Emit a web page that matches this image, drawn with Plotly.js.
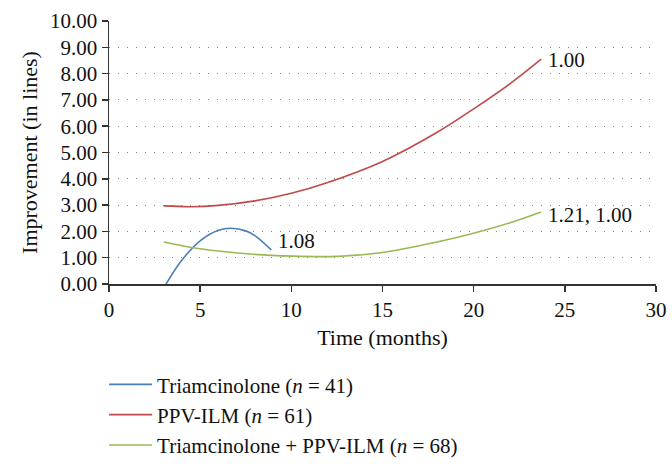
<!DOCTYPE html>
<html>
<head>
<meta charset="utf-8">
<script src="https://cdn.plot.ly/plotly-3.0.1.min.js"></script>
<style>
  body { margin: 0; background: #fff; }
  #graph { width: 672px; height: 464px; }
</style>
</head>
<body>
<div id="graph"></div>
<script>
// values
var triamX = [3, 4, 5, 6, 6.7, 7.5, 8, 8.9];
var triamY = [-0.15, 0.91, 1.64, 2.04, 2.12, 2.02, 1.84, 1.3];
var ppvX = [3, 4.5, 6, 8, 10, 12, 15, 18, 20, 22, 23.7];
var ppvY = [2.97, 2.94, 2.99, 3.16, 3.45, 3.86, 4.66, 5.77, 6.66, 7.62, 8.55];
var comboX = [3, 5, 7.7, 10, 12.5, 15, 18, 20, 22, 23.7];
var comboY = [1.6, 1.34, 1.14, 1.06, 1.05, 1.2, 1.6, 1.93, 2.33, 2.74];
var seriesNames = ["Triamcinolone (<i>n</i> = 41)", "PPV-ILM (<i>n</i> = 61)", "Triamcinolone + PPV-ILM (<i>n</i> = 68)"];
var seriesColors = ["#4a7ebb", "#be4b48", "#98b954"];
var endLabels = ["1.08", "1.00", "1.21, 1.00"];
var labelY = [1.63, 8.52, 2.62];

var serif = "Liberation Serif, Times New Roman, serif";

function makeTrace(xs, ys, i) {
    return {
        x: xs,
        y: ys,
        type: "scatter",
        mode: "lines",
        name: seriesNames[i],
        line: {color: seriesColors[i], width: 1.6, shape: "spline", smoothing: 1},
        hoverinfo: "skip"
    };
}

var data = [
    makeTrace(triamX, triamY, 0),
    makeTrace(ppvX, ppvY, 1),
    makeTrace(comboX, comboY, 2)
];

/* end labels sit just right of the last point of each curve */
var lastX = [triamX[triamX.length - 1], ppvX[ppvX.length - 1], comboX[comboX.length - 1]];
var annotations = [];
for (var i = 0; i < endLabels.length; i++) {
    annotations.push({
        x: lastX[i] + 0.25,
        y: labelY[i],
        xref: "x",
        yref: "y",
        text: endLabels[i],
        showarrow: false,
        xanchor: "left",
        yanchor: "middle",
        font: {family: serif, size: 21, color: "#111"}
    });
}

var layout = {
    width: 672,
    height: 464,
    paper_bgcolor: "#fff",
    plot_bgcolor: "#fff",
    font: {family: serif, size: 21, color: "#111"},
    margin: {l: 109, r: 16, t: 21, b: 180, pad: 0, autoexpand: false},
    showlegend: true,
    legend: {
        x: -0.009,
        y: -0.305,
        xanchor: "left",
        yanchor: "top",
        font: {family: serif, size: 21, color: "#111"},
        tracegroupgap: 0,
        itemwidth: 43
    },
    xaxis: {
        range: [0, 30],
        dtick: 5,
        tick0: 0,
        showgrid: false,
        zeroline: false,
        showline: true,
        linecolor: "#333",
        linewidth: 1.5,
        ticks: "outside",
        ticklen: 6,
        tickwidth: 1.5,
        tickcolor: "#333",
        tickfont: {family: serif, size: 21, color: "#111"},
        title: {text: "Time (months)", font: {family: serif, size: 22, color: "#111"}, standoff: 9}
    },
    yaxis: {
        range: [0, 10],
        dtick: 1,
        tick0: 0,
        tickformat: ".2f",
        showgrid: true,
        gridcolor: "#888",
        gridwidth: 1,
        griddash: "1px,8px",
        zeroline: false,
        showline: true,
        linecolor: "#333",
        linewidth: 1.5,
        ticks: "outside",
        ticklen: 6,
        tickwidth: 1.5,
        tickcolor: "#333",
        tickfont: {family: serif, size: 21, color: "#111"},
        title: {text: "Improvement (in lines)", font: {family: serif, size: 22, color: "#111"}, standoff: 6}
    },
    annotations: annotations
};

Plotly.newPlot("graph", data, layout, {displayModeBar: false, staticPlot: true});
</script>
</body>
</html>
